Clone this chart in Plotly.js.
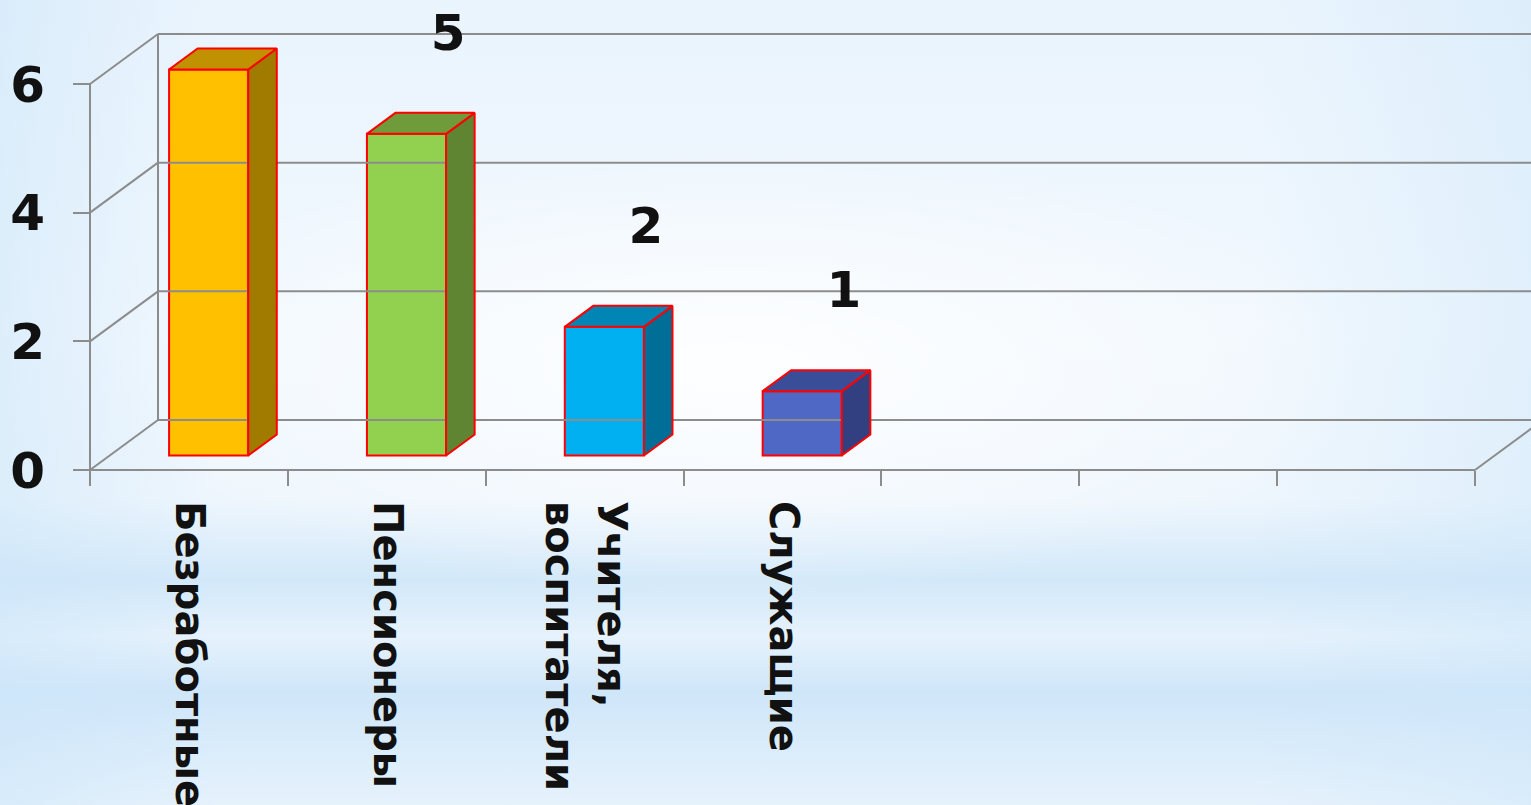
<!DOCTYPE html>
<html>
<head>
<meta charset="utf-8">
<script src="https://cdn.plot.ly/plotly-3.0.1.min.js"></script>
<style>
html, body { margin: 0; padding: 0; width: 1531px; height: 805px; overflow: hidden; }
body {
  background:
    radial-gradient(ellipse 42% 28% at 48% 46%, rgba(255,255,255,0.9), rgba(255,255,255,0) 100%),
    linear-gradient(90deg, rgba(205,230,249,0.55) 0%, rgba(255,255,255,0) 14%, rgba(255,255,255,0) 82%, rgba(205,230,249,0.45) 100%),
    linear-gradient(180deg, #eaf4fd 0%, #f1f8fe 40%, #eef6fd 62%, #d2e8f9 72%, #e6f2fc 79%, #cfe6f9 86%, #e6f2fc 100%);
}
#chart { width: 1531px; height: 805px; }
</style>
</head>
<body>
<div id="chart"></div>
<script>
// ---- data ----
const categories = ['Безработные', 'Пенсионеры', 'Учителя,<br>воспитатели', 'Служащие'];
const values = [6, 5, 2, 1];
const yTicks = [0, 2, 4, 6];
const nSlots = 7;

// ---- style ----
const frontColors = ['#FFC000', '#92D050', '#00B0F0', '#4F68C5'];
const sideColors  = ['#A07B00', '#5F8532', '#006E96', '#323F80'];
const topColors   = ['#C09100', '#6F9B3B', '#0085B4', '#3A4D98'];
const edge = '#FF0000';
const gridColor = '#8c8c8c';
const W = 1531, H = 805;
const axisX = 90, axisY = 470;         // front axis origin in pixels
const PX = 1385 / nSlots;              // px per category slot
const PY = 386 / 6;                    // px per value unit
const DX = 68 / PX, DY = 50 / PY;      // depth offset of the 3D box (data units)
const F0 = 0.29, F1 = 0.71;            // bar front/back depth fractions
const BW = 0.4;                        // bar width (slot units)
const LBL_DX = 0.31, LBL_DY = 1.73;    // data label offset
const font = 'DejaVu Sans, Verdana, sans-serif';

const xr0 = -0.5 - axisX / PX, xr1 = -0.5 + (W - axisX) / PX;
const yr0 = -(H - axisY) / PY, yr1 = axisY / PY;
const yMax = yTicks[yTicks.length - 1];

const traces = [];
const line = (x, y) => ({ type: 'scatter', mode: 'lines', x, y, hoverinfo: 'skip', showlegend: false,
  line: { color: gridColor, width: 2 } });

// back wall horizontal gridlines + left wall diagonals
yTicks.forEach(t => {
  traces.push(line([-0.5 + DX, xr1 + 1], [t + DY, t + DY]));
  traces.push(line([-0.5, -0.5 + DX], [t, t + DY]));
});
// back wall vertical edge, front value axis line, front floor line, right floor edge
traces.push(line([-0.5 + DX, -0.5 + DX], [DY, yMax + DY]));
traces.push(line([-0.5, -0.5], [0, yMax]));
traces.push(line([-0.5, nSlots - 0.5], [0, 0]));
traces.push(line([nSlots - 0.5, nSlots - 0.5 + DX], [0, DY]));

// 3D bar side and top faces
const d = F1 - F0;
values.forEach((v, i) => {
  const b = F0 * DY;
  const xl = i - BW / 2 + F0 * DX, xr = i + BW / 2 + F0 * DX;
  traces.push({ type: 'scatter', mode: 'lines', fill: 'toself', fillcolor: sideColors[i],
    x: [xr, xr + d * DX, xr + d * DX, xr, xr],
    y: [b, b + d * DY, b + d * DY + v, b + v, b],
    line: { color: edge, width: 2 }, hoverinfo: 'skip', showlegend: false });
  traces.push({ type: 'scatter', mode: 'lines', fill: 'toself', fillcolor: topColors[i],
    x: [xl, xr, xr + d * DX, xl + d * DX, xl],
    y: [b + v, b + v, b + v + d * DY, b + v + d * DY, b + v],
    line: { color: edge, width: 2 }, hoverinfo: 'skip', showlegend: false });
});

// front faces
traces.push({ type: 'bar', x: values.map((v, i) => i + F0 * DX), y: values,
  base: values.map(() => F0 * DY), width: BW,
  marker: { color: frontColors, line: { color: edge, width: 2 } },
  hoverinfo: 'skip', showlegend: false });

// data labels
traces.push({ type: 'scatter', mode: 'text', xaxis: 'x2',
  x: values.map((v, i) => i + LBL_DX), y: values.map(v => v + LBL_DY),
  text: values.map(String), textposition: 'middle center',
  textfont: { family: font, size: 50, color: '#111111', weight: 'bold' },
  hoverinfo: 'skip', showlegend: false });

const boundaries = Array.from({ length: nSlots + 1 }, (_, k) => k - 0.5);

const layout = {
  width: W, height: H,
  margin: { l: 0, r: 0, t: 0, b: 0 },
  paper_bgcolor: 'rgba(0,0,0,0)', plot_bgcolor: 'rgba(0,0,0,0)',
  showlegend: false,
  barmode: 'overlay',
  xaxis: { range: [xr0, xr1], anchor: 'free', position: (H - axisY) / H,
    tickmode: 'array', tickvals: boundaries, ticks: 'outside', ticklen: 15, tickwidth: 2, tickcolor: gridColor,
    showticklabels: false, showgrid: false, zeroline: false, showline: false, fixedrange: true },
  xaxis2: { range: [xr0, xr1], overlaying: 'x', anchor: 'free', position: (H - axisY) / H, side: 'bottom',
    tickmode: 'array', tickvals: categories.map((c, i) => i), ticktext: categories,
    tickangle: 90, ticks: '', ticklabelstandoff: 30,
    tickfont: { family: font, size: 40, color: '#111111', weight: 'bold' },
    showgrid: false, zeroline: false, showline: false, fixedrange: true },
  yaxis: { range: [yr0, yr1], anchor: 'free', position: axisX / W,
    tickmode: 'array', tickvals: yTicks, ticks: 'outside', ticklen: 17, tickwidth: 2, tickcolor: gridColor,
    ticklabelstandoff: 18,
    tickfont: { family: font, size: 50, color: '#111111', weight: 'bold' },
    showgrid: false, zeroline: false, showline: false, fixedrange: true }
};

Plotly.newPlot('chart', traces, layout, { displayModeBar: false, staticPlot: true });
</script>
</body>
</html>
